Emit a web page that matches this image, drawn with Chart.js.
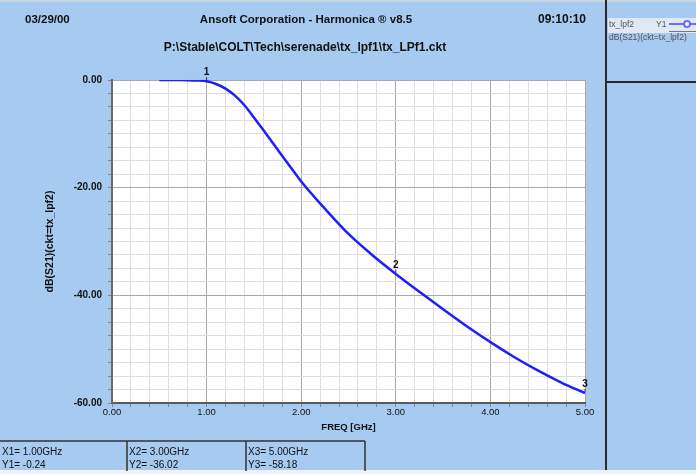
<!DOCTYPE html>
<html>
<head>
<meta charset="utf-8">
<script src="https://cdn.jsdelivr.net/npm/chart.js@4/dist/chart.umd.min.js"></script>
<style>
  body { margin: 0; background: #a6caf0; }
  #chart { display: block; }
</style>
</head>
<body>
<canvas id="chart" width="696" height="474"></canvas>
<script>
// sweep (GHz) and dB(S21)
var freqs = [0.5, 0.6, 0.7, 0.8, 0.9, 1.0, 1.1, 1.2, 1.3, 1.4, 1.5, 1.6, 1.7, 1.8, 1.9, 2.0,
             2.25, 2.5, 2.75, 3.0, 3.25, 3.5, 3.75, 4.0, 4.25, 4.5, 4.75, 5.0];
var s21Db = [0.0, 0.0, -0.01, -0.03, -0.09, -0.24, -0.75, -1.6, -2.9, -4.7, -6.95, -9.3, -11.7, -14.1, -16.5, -18.85,
             -23.9, -28.6, -32.5, -36.02, -39.35, -42.6, -45.75, -48.7, -51.45, -53.95, -56.2, -58.18];

// markers
var markerNames = ['1', '2', '3'];
var markerFreqs = [1.0, 3.0, 5.0];
var markerVals = [-0.24, -36.02, -58.18];

var traceName = 'tx_lpf2';
var traceExpr = 'dB(S21)(ckt=tx_lpf2)';
var headDate = '03/29/00';
var headTime = '09:10:10';
var headTitle = 'Ansoft Corporation - Harmonica \u00ae v8.5';
var headPath = 'P:\\Stable\\COLT\\Tech\\serenade\\tx_lpf1\\tx_LPf1.ckt';

var BG = '#a6caf0';
var LINE = '#1e1eff';
var FONT = '"Liberation Sans", Arial, sans-serif';

function isWhole(v, step) {
    var r = v / step;
    return Math.abs(r - Math.round(r)) < 1e-6;
}

var framePlugin = {
    id: 'frame',
    beforeDraw: function (chart) {
        var ctx = chart.ctx, a = chart.chartArea;
        ctx.save();
        ctx.fillStyle = BG;
        ctx.fillRect(0, 0, chart.width, chart.height);
        // top strip and bottom strip
        ctx.fillStyle = '#c8d4e0';
        ctx.fillRect(0, 0, chart.width, 2);
        ctx.fillStyle = '#eef3f9';
        ctx.fillRect(0, 470, chart.width, 4);
        // plot background
        ctx.fillStyle = '#ffffff';
        ctx.fillRect(a.left, a.top, a.right - a.left, a.bottom - a.top);
        ctx.restore();
    },
    afterDraw: function (chart) {
        var ctx = chart.ctx, xs = chart.scales.x, ys = chart.scales.y;
        ctx.save();
        ctx.fillStyle = '#111';
        ctx.textBaseline = 'middle';

        // header
        ctx.font = 'bold 11.5px ' + FONT;
        ctx.textAlign = 'left';
        ctx.fillText(headDate, 25, 20);
        ctx.textAlign = 'center';
        ctx.fillText(headTitle, 306, 20);
        ctx.font = 'bold 12px ' + FONT;
        ctx.fillText(headPath, 305, 48);
        ctx.textAlign = 'left';
        ctx.fillText(headTime, 538, 20);

        // marker labels on the trace
        ctx.textAlign = 'center';
        ctx.font = 'bold 10px ' + FONT;
        markerFreqs.forEach(function (f, i) {
            var px = xs.getPixelForValue(f), py = ys.getPixelForValue(markerVals[i]);
            ctx.strokeStyle = '#333';
            ctx.lineWidth = 1;
            ctx.beginPath();
            ctx.moveTo(px, py - 1);
            ctx.lineTo(px, py - 4);
            ctx.stroke();
            ctx.fillText(markerNames[i], px, py - 9);
        });

        // right panel
        ctx.fillStyle = '#2a2a2a';
        ctx.fillRect(605, 0, 2, 470);
        ctx.fillRect(607, 81, chart.width - 607, 2);
        ctx.fillStyle = '#dfe8f3';
        ctx.fillRect(608, 18, chart.width - 608, 15);
        ctx.font = '8.5px ' + FONT;
        ctx.textAlign = 'left';
        ctx.fillStyle = '#555';
        ctx.fillText(traceName, 609, 25);
        ctx.fillText('Y1', 656, 25);
        ctx.fillText(traceExpr, 609, 38);
        ctx.strokeStyle = '#6b6bff';
        ctx.lineWidth = 2;
        ctx.beginPath();
        ctx.moveTo(669, 24);
        ctx.lineTo(chart.width, 24);
        ctx.stroke();
        ctx.fillStyle = '#fff';
        ctx.beginPath();
        ctx.arc(687, 24, 3, 0, Math.PI * 2);
        ctx.fill();
        ctx.stroke();
        ctx.fillStyle = '#777';
        ctx.fillRect(669, 31, chart.width - 669, 1);

        // marker readout table
        ctx.strokeStyle = '#333';
        ctx.lineWidth = 1.5;
        ctx.beginPath();
        ctx.moveTo(0, 441); ctx.lineTo(365, 441);
        [127, 246, 365].forEach(function (x) {
            ctx.moveTo(x, 441); ctx.lineTo(x, 471);
        });
        ctx.stroke();
        ctx.fillStyle = '#111';
        ctx.font = '10px ' + FONT;
        var cols = [2, 129, 248];
        markerFreqs.forEach(function (f, i) {
            ctx.fillText('X' + (i + 1) + '= ' + f.toFixed(2) + 'GHz', cols[i], 452);
            ctx.fillText('Y' + (i + 1) + '= ' + markerVals[i].toFixed(2), cols[i], 465);
        });
        ctx.restore();
    }
};

var ctx = document.getElementById('chart').getContext('2d');
var chart = new Chart(ctx, {
    type: 'line',
    data: {
        datasets: [{
            label: traceExpr,
            data: freqs.map(function (f, i) { return { x: f, y: s21Db[i] }; }),
            borderColor: LINE,
            borderWidth: 2.5,
            pointRadius: 0,
            fill: false,
            cubicInterpolationMode: 'monotone'
        }]
    },
    options: {
        responsive: false,
        animation: false,
        layout: { padding: { left: 0, right: 111, top: 80, bottom: 0 } },
        plugins: {
            legend: { display: false },
            tooltip: { enabled: false }
        },
        scales: {
            x: {
                type: 'linear',
                min: 0, max: 5,
                afterFit: function (s) { s.height = 71; },
                ticks: {
                    stepSize: 0.2,
                    autoSkip: false,
                    maxRotation: 0,
                    padding: 0,
                    color: '#111',
                    font: { family: FONT, size: 9.5 },
                    callback: function (v) { return isWhole(v, 1) ? v.toFixed(2) : ''; }
                },
                grid: {
                    tickLength: 4,
                    color: function (c) { return isWhole(c.tick.value, 1) ? '#a8a8a8' : '#dedede'; },
                    tickColor: '#888'
                },
                border: { color: '#5a5a5a', width: 2 },
                title: {
                    display: true,
                    text: 'FREQ [GHz]',
                    color: '#111',
                    font: { family: FONT, size: 9.5, weight: 'bold' },
                    padding: { top: 0, bottom: 41 }
                }
            },
            y: {
                type: 'linear',
                min: -60, max: 0,
                afterFit: function (s) { s.width = 112; },
                ticks: {
                    stepSize: 2.5,
                    autoSkip: false,
                    padding: 6,
                    color: '#111',
                    font: { family: FONT, size: 10, weight: 'bold' },
                    callback: function (v) { return isWhole(v, 20) ? v.toFixed(2) : ''; }
                },
                grid: {
                    tickLength: 4,
                    color: function (c) { return isWhole(c.tick.value, 20) ? '#a8a8a8' : '#dedede'; },
                    tickColor: '#888'
                },
                border: { color: '#6a6a6a', width: 2 },
                title: {
                    display: true,
                    text: traceExpr,
                    color: '#111',
                    font: { family: FONT, size: 10.5, weight: 'bold' },
                    padding: { top: 44, bottom: 0 }
                }
            }
        }
    },
    plugins: [framePlugin]
});
</script>
</body>
</html>
